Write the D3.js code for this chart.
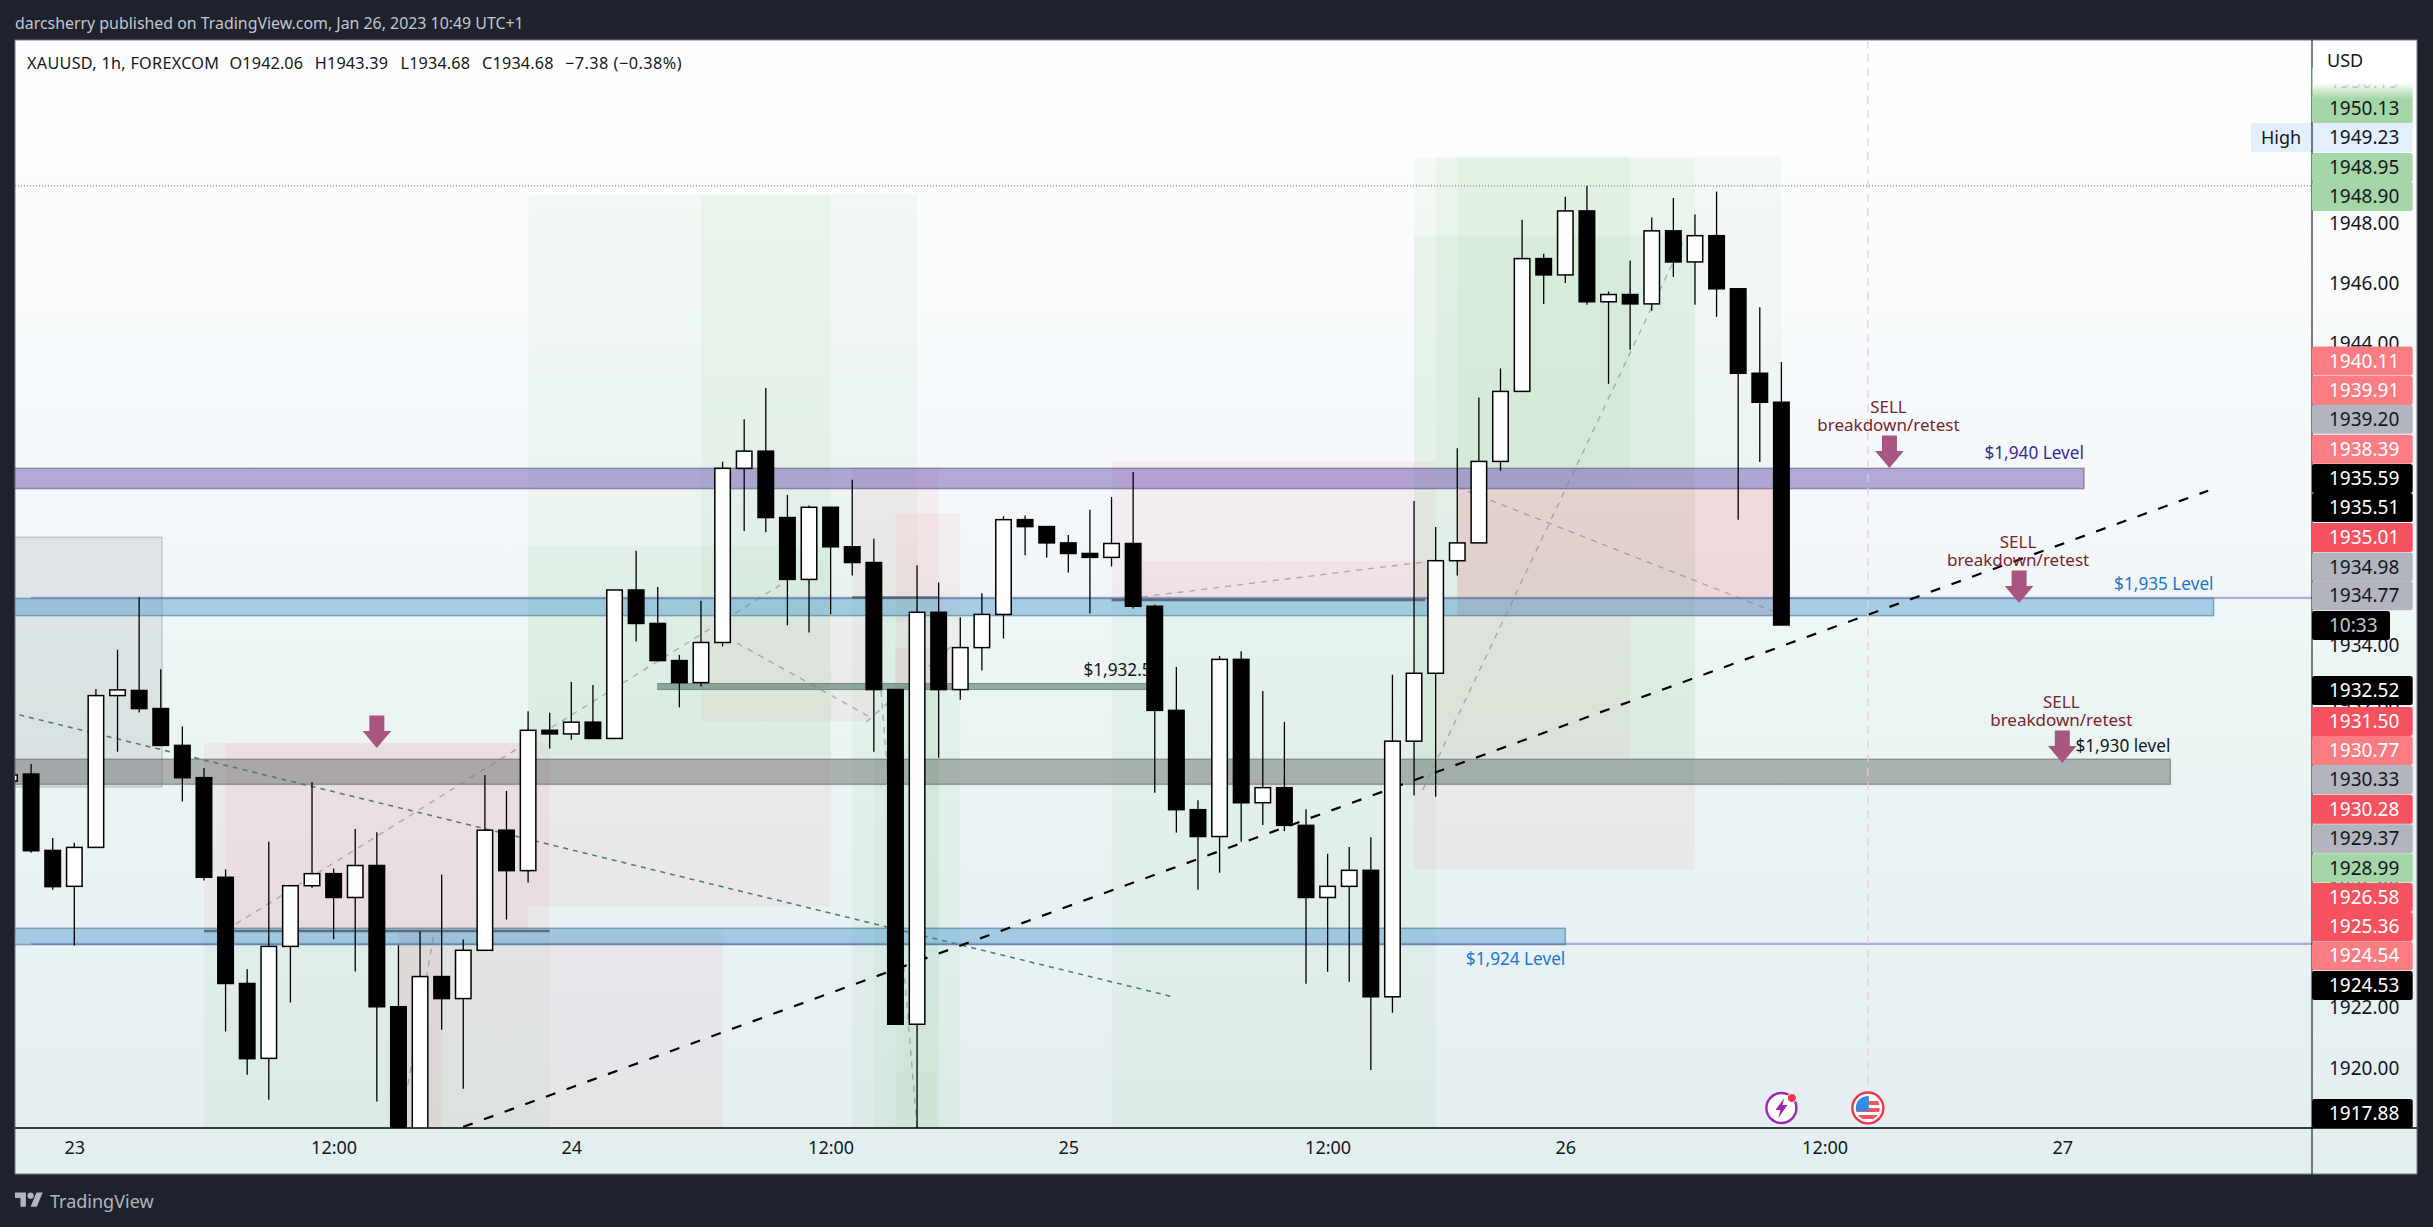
<!DOCTYPE html>
<html>
<head>
<meta charset="utf-8">
<script src="https://cdn.jsdelivr.net/npm/d3@7"></script>
<style>
    html, body { margin: 0; padding: 0; background: #1e222d; }
    svg { display: block; }
    text { font-family: "Noto Sans", sans-serif; }
</style>
</head>
<body>
<svg id="chart" width="2433" height="1227"></svg>
<script>
// candles, first one is the clipped stub at the left edge (bar -1)
let firstBar = -1;
let opens = [1929.51,
    1929.74, 1927.21, 1926.02, 1927.31, 1932.34, 1932.51, 1931.91, 1930.69, 1929.62, 1926.32,
    1922.80, 1920.32, 1924.03, 1926.04, 1926.44, 1925.65, 1926.71, 1922.03, 1916.90, 1923.03,
    1922.30, 1923.90, 1927.88, 1926.54, 1931.19, 1931.07, 1931.46, 1930.92, 1935.84, 1934.73,
    1933.50, 1932.77, 1934.10, 1939.87, 1940.44, 1938.24, 1936.19, 1938.58, 1937.27, 1936.75,
    1932.54, 1921.45, 1935.10, 1932.54, 1933.93, 1935.03, 1938.17, 1937.94, 1937.40, 1937.05,
    1936.92, 1937.38, 1935.30, 1931.85, 1928.56, 1927.67, 1933.54, 1928.79, 1929.29, 1928.04,
    1925.65, 1926.02, 1926.55, 1922.36, 1930.83, 1933.08, 1936.81, 1937.40, 1940.10, 1942.42,
    1946.82, 1946.28, 1948.40, 1945.39, 1945.63, 1945.32, 1947.74, 1946.71, 1947.58, 1945.82,
    1943.02, 1942.06];
let highs = [1929.75,
    1930.07, 1927.62, 1927.46, 1932.56, 1933.86, 1935.61, 1933.21, 1931.32, 1929.94, 1926.58,
    1923.27, 1927.50, 1926.04, 1929.48, 1926.61, 1927.92, 1927.81, 1924.07, 1924.52, 1926.41,
    1924.26, 1929.71, 1929.18, 1931.82, 1931.77, 1932.79, 1932.69, 1935.84, 1937.14, 1935.94,
    1933.69, 1935.48, 1940.09, 1941.50, 1942.53, 1938.99, 1938.64, 1938.58, 1939.49, 1937.54,
    1932.54, 1936.66, 1936.09, 1934.94, 1935.73, 1938.28, 1938.31, 1937.94, 1937.66, 1938.50,
    1938.92, 1939.75, 1935.36, 1933.29, 1928.87, 1933.65, 1933.81, 1932.49, 1931.47, 1928.57,
    1927.10, 1927.32, 1927.65, 1933.03, 1938.79, 1937.93, 1940.54, 1942.22, 1943.18, 1948.11,
    1946.98, 1948.87, 1949.23, 1945.73, 1946.76, 1948.18, 1948.83, 1948.28, 1949.04, 1945.82,
    1945.21, 1943.39];
let lows = [1929.45,
    1927.13, 1925.91, 1924.06, 1927.31, 1930.48, 1931.78, 1930.69, 1928.83, 1926.21, 1921.21,
    1919.78, 1918.95, 1922.17, 1925.97, 1924.27, 1923.20, 1918.89, 1916.80, 1916.50, 1921.27,
    1919.31, 1923.90, 1924.92, 1926.15, 1930.59, 1930.88, 1930.92, 1930.92, 1934.13, 1933.50,
    1931.95, 1932.64, 1933.97, 1937.79, 1937.75, 1934.67, 1934.43, 1935.04, 1936.32, 1930.48,
    1921.45, 1917.88, 1930.28, 1932.20, 1933.17, 1934.23, 1936.99, 1936.92, 1936.42, 1935.06,
    1936.62, 1935.23, 1929.12, 1927.80, 1925.91, 1926.47, 1927.50, 1928.05, 1927.85, 1922.79,
    1923.19, 1922.86, 1919.93, 1921.83, 1929.03, 1928.99, 1936.32, 1937.40, 1939.79, 1942.42,
    1945.32, 1946.01, 1945.29, 1942.67, 1943.80, 1945.09, 1946.21, 1945.29, 1944.89, 1938.17,
    1940.08, 1934.68];
let closes = [1929.71,
    1927.20, 1926.01, 1927.31, 1932.34, 1932.53, 1931.91, 1930.69, 1929.62, 1926.32, 1922.80,
    1920.31, 1924.03, 1926.04, 1926.44, 1925.65, 1926.71, 1922.03, 1917.00, 1923.03, 1922.30,
    1923.90, 1927.88, 1926.54, 1931.19, 1931.07, 1931.46, 1930.92, 1935.84, 1934.73, 1933.50,
    1932.77, 1934.10, 1939.87, 1940.44, 1938.24, 1936.19, 1938.58, 1937.27, 1936.75, 1932.54,
    1921.45, 1935.10, 1932.54, 1933.93, 1935.03, 1938.17, 1937.94, 1937.40, 1937.05, 1936.92,
    1937.38, 1935.30, 1931.85, 1928.56, 1927.67, 1933.54, 1928.79, 1929.29, 1928.04, 1925.65,
    1926.02, 1926.55, 1922.36, 1930.83, 1933.08, 1936.81, 1937.40, 1940.10, 1942.42, 1946.82,
    1946.28, 1948.40, 1945.39, 1945.63, 1945.32, 1947.74, 1946.71, 1947.58, 1945.82, 1943.02,
    1942.06, 1934.68];

// time axis: bar number -> label
let timeTickBars = [2, 14, 25, 37, 48, 60, 71, 83, 94];
let timeTickLabels = ["23", "12:00", "24", "12:00", "25", "12:00", "26", "12:00", "27"];

// only the ticks that are not fully covered by the label stack
let priceTicks = [1920, 1922, 1926, 1932, 1934, 1944, 1946, 1948];

// drawings as [barFrom, barTo, priceTop, priceBottom]
let greenZones = [
    [8, 24, 1924.54, 1915], [23, 37, 1948.93, 1930.33], [23, 37, 1937.30, 1930.33],
    [31, 41, 1948.95, 1934.77], [38, 42, 1935.59, 1915], [39, 42, 1935.59, 1915], [40, 43, 1932.52, 1915],
    [50, 65, 1935.51, 1915], [64, 77, 1950.13, 1929.37], [64, 77, 1947.58, 1929.37],
    [65, 81, 1950.19, 1939.20], [66, 74, 1950.19, 1939.20]];
let pinkZones = [
    [8, 24, 1930.77, 1924.54], [9, 23, 1930.77, 1924.54], [17, 32, 1924.54, 1915], [17, 19, 1924.54, 1915],
    [31, 39, 1934.77, 1931.50], [23, 37, 1930.33, 1925.36], [38, 42, 1939.91, 1935.59],
    [40, 43, 1938.39, 1932.52], [40, 43, 1933.93, 1932.52], [50, 65, 1940.11, 1935.51], [51, 65, 1936.80, 1935.51],
    [64, 77, 1929.37, 1926.58], [65, 74, 1934.98, 1930.28], [66, 81, 1939.20, 1934.98], [66, 81, 1939.20, 1934.98], [66, 81, 1939.20, 1934.98]];
let greyBoxes = [[-2, 6.06, 1937.59, 1929.31]];

let purpleBands = [[-2, 95, 1939.87, 1939.20]];
let blueBands = [[-2, 101, 1935.56, 1934.99], [-2, 71, 1924.63, 1924.09]];
let greyBands = [[-2, 99, 1930.23, 1929.40]];
let tealBands = [[29, 52, 1932.74, 1932.54]];

// prices of the two horizontal rays starting at bar 0
let rayPrices = [1935.58, 1924.11];
let entryLines = [[8, 24, 1924.54], [38, 42, 1935.59], [50, 64.5, 1935.51]];

// [barFrom, priceFrom, barTo, priceTo]
let trendLine = [20, 1918.05, 100.75, 1939.13];
let tealDashed = [-1, 1931.78, 52.89, 1922.35];
let greyDashed = [
    [9.47, 1924.77, 34.66, 1936.00], [17.44, 1919.45, 18.64, 1924.44], [32.67, 1934.08, 39, 1931.56],
    [39.33, 1932.49, 41, 1918.01], [38.64, 1931.46, 42.66, 1934.02], [51.4, 1935.61, 64.5, 1936.77],
    [65.98, 1939.25, 80.6, 1935.14], [64.4, 1929.21, 76.5, 1947.47]];

let highPrice = 1949.23;
let eventBars = [81, 85];

// sell arrows: [bar, price of the tip]
let sellArrows = [[16, 1930.60], [86, 1939.88], [92, 1935.41], [94, 1930.11]];
let sellNotes = [[86, 1941.91], [92, 1937.44], [94, 1932.14]];
let levelNotes = [
    ["$1,940 Level", 95, 1940.39, "end", "#3a2a9e"],
    ["$1,935 Level", 101, 1936.04, "end", "#1976d2"],
    ["$1,930 level", 99, 1930.68, "end", "#131722"],
    ["$1,924 Level", 71, 1923.61, "end", "#1976d2"],
    ["$1,932.50", 48.7, 1933.20, "start", "#131722"]];

// right hand price labels, slot is where the stack put them on the scale
let labelTexts = ["1950.19", "1950.13", "1948.95", "1948.90", "1940.11", "1939.91", "1939.20", "1938.39", "1935.59", "1935.51",
    "1935.01", "1934.98", "1934.77", "1932.52", "1931.50", "1930.77", "1930.33", "1930.28", "1929.37", "1928.99",
    "1926.58", "1925.36", "1924.54", "1924.53", "1917.88"];
let labelSlots = [1952.70, 1951.79, 1949.84, 1948.88, 1943.43, 1942.45, 1941.50, 1940.50, 1939.53, 1938.57,
    1937.58, 1936.60, 1935.65, 1932.51, 1931.48, 1930.52, 1929.56, 1928.57, 1927.60, 1926.63,
    1925.65, 1924.69, 1923.72, 1922.73, 1918.49];
let labelKinds = ["green", "green", "green", "green", "salmon", "salmon", "grey", "salmon", "black", "black",
    "red", "grey", "grey", "black", "red", "salmon", "grey", "red", "grey", "green",
    "red", "red", "salmon", "black", "black"];
let labelFills = { green: "#a5d6a7", salmon: "#f97d83", grey: "#b2b5be", black: "#000000", red: "#f7525f" };
let labelInk = { green: "#131722", salmon: "#ffffff", grey: "#131722", black: "#ffffff", red: "#ffffff" };

let titleText = "darcsherry published on TradingView.com, Jan 26, 2023 10:49 UTC+1";
let legendParts = ["XAUUSD, 1h, FOREXCOM", "O1942.06", "H1943.39", "L1934.68", "C1934.68", "\u22127.38 (\u22120.38%)"];
let legendStarts = [27, 229.6, 314.8, 400.5, 482, 565];
let legendEnds = [219, 303, 388, 470, 553.6, 681.6];

let panelLeft = 15, panelTop = 40, panelRight = 2417, panelBottom = 1174;
let plotRight = 2312, plotBottom = 1128;

let x = d3.scaleLinear().domain([0, 81]).range([31.1, 1781.4]);
let y = d3.scaleLinear().domain([1920, 1948]).range([1068, 223]);

let svg = d3.select("#chart");
let defs = svg.append("defs");

let gradient = defs.append("linearGradient").attr("id", "panelFill").attr("x1", 0).attr("x2", 0).attr("y1", 0).attr("y2", 1);
for (let [offset, color] of [[0, "#ffffff"], [0.44, "#f3f7fa"], [0.58, "#ebf5f3"], [0.85, "#e7f0f3"], [1, "#e3eeef"]]) {
    gradient.append("stop").attr("offset", offset).attr("stop-color", color);
}
let fade = defs.append("linearGradient").attr("id", "axisFade").attr("x1", 0).attr("x2", 0).attr("y1", 0).attr("y2", 1);
fade.append("stop").attr("offset", 0.72).attr("stop-color", "#ffffff");
fade.append("stop").attr("offset", 1).attr("stop-color", "#ffffff").attr("stop-opacity", 0);

defs.append("clipPath").attr("id", "plotClip").append("rect")
    .attr("x", panelLeft).attr("y", panelTop).attr("width", plotRight - panelLeft).attr("height", plotBottom - panelTop);

svg.append("text").attr("x", panelLeft).attr("y", 23).attr("dy", "0.35em")
    .attr("font-size", 15.9).attr("fill", "#c3c6ce").text(titleText);

svg.append("rect").attr("x", panelLeft).attr("y", panelTop).attr("width", panelRight - panelLeft).attr("height", panelBottom - panelTop)
    .attr("fill", "url(#panelFill)").attr("stroke", "#787b86").attr("stroke-width", 1);

let plot = svg.append("g").attr("clip-path", "url(#plotClip)");

function drawRects(list, fill, stroke, strokeWidth) {
    plot.append("g").selectAll("rect").data(list).join("rect")
        .attr("x", d => x(d[0]))
        .attr("width", d => x(d[1]) - x(d[0]))
        .attr("y", d => y(d[2]))
        .attr("height", d => y(d[3]) - y(d[2]))
        .attr("fill", fill)
        .attr("stroke", stroke || "none")
        .attr("stroke-width", strokeWidth || 0);
}

drawRects(greenZones, "rgba(76, 175, 80, 0.05)");
drawRects(pinkZones, "rgba(242, 54, 69, 0.055)");
drawRects(greyBoxes, "rgba(120, 123, 134, 0.15)", "rgba(120, 123, 134, 0.45)", 1);

// horizontal rays and the tool entry lines
plot.append("g").selectAll("line").data(rayPrices).join("line")
    .attr("x1", x(0)).attr("x2", plotRight)
    .attr("y1", d => y(d)).attr("y2", d => y(d))
    .attr("stroke", "rgba(103, 58, 183, 0.42)").attr("stroke-width", 2.2);

drawRects(purpleBands, "rgba(100, 70, 175, 0.45)", "rgba(85, 75, 125, 0.55)", 1.5);
drawRects(blueBands, "rgba(70, 150, 205, 0.43)", "rgba(70, 120, 150, 0.6)", 1.5);
drawRects(greyBands, "rgba(90, 95, 95, 0.44)", "rgba(100, 100, 100, 0.55)", 1.5);
drawRects(tealBands, "rgba(80, 115, 105, 0.58)", "rgba(80, 105, 100, 0.6)", 1);

plot.append("g").selectAll("line").data(entryLines).join("line")
    .attr("x1", d => x(d[0])).attr("x2", d => x(d[1]))
    .attr("y1", d => y(d[2])).attr("y2", d => y(d[2]))
    .attr("stroke", "rgba(70, 80, 95, 0.75)").attr("stroke-width", 2.4);

function drawSegments(list, stroke, width, dash) {
    plot.append("g").selectAll("line").data(list).join("line")
        .attr("x1", d => x(d[0])).attr("y1", d => y(d[1]))
        .attr("x2", d => x(d[2])).attr("y2", d => y(d[3]))
        .attr("stroke", stroke).attr("stroke-width", width).attr("stroke-dasharray", dash);
}

drawSegments(greyDashed, "rgba(120, 130, 140, 0.6)", 1.3, "6,6");
drawSegments([tealDashed], "#4a7a72", 1.5, "5,5");
drawSegments([trendLine], "#000000", 2.2, "10,12");

plot.append("line").attr("x1", panelLeft).attr("x2", plotRight).attr("y1", y(highPrice)).attr("y2", y(highPrice))
    .attr("stroke", "#6a6d78").attr("stroke-width", 1).attr("stroke-dasharray", "1,2");

// news marker line
plot.append("line").attr("x1", x(eventBars[1])).attr("x2", x(eventBars[1])).attr("y1", panelTop).attr("y2", plotBottom - 38)
    .attr("stroke", "#f3c6d4").attr("stroke-width", 1.2).attr("stroke-dasharray", "8,6");

// notes and arrows, under the candles like the other drawings
let noteLayer = plot.append("g");
for (let [text, bar, price, anchor, color] of levelNotes) {
    noteLayer.append("text").attr("x", x(bar)).attr("y", y(price)).attr("dy", "0.35em")
        .attr("text-anchor", anchor).attr("font-size", 17.2).attr("fill", color).text(text);
}
for (let [bar, price] of sellNotes) {
    let note = noteLayer.append("text").attr("text-anchor", "middle").attr("font-size", 17).attr("fill", "#801f2c");
    note.append("tspan").attr("x", x(bar) - 1).attr("y", y(price)).attr("dy", "0.35em").text("SELL");
    note.append("tspan").attr("x", x(bar) - 1).attr("y", y(price) + 18.3).attr("dy", "0.35em").text("breakdown/retest");
}
noteLayer.selectAll("path").data(sellArrows).join("path")
    .attr("transform", d => `translate(${x(d[0])},${y(d[1])})`)
    .attr("d", "M0,0 L-14.3,-17 L-7.5,-17 L-7.5,-32.5 L7.5,-32.5 L7.5,-17 L14.3,-17 Z")
    .attr("fill", "#a8557f");

// candles
let bars = opens.map((open, i) => ({ bar: i + firstBar, open, high: highs[i], low: lows[i], close: closes[i] }));
let candles = plot.append("g").selectAll("g").data(bars).join("g");
candles.append("line")
    .attr("x1", d => x(d.bar)).attr("x2", d => x(d.bar))
    .attr("y1", d => y(d.high)).attr("y2", d => y(d.low))
    .attr("stroke", "#000000").attr("stroke-width", 1.3);
candles.append("rect")
    .attr("x", d => x(d.bar) - 7.75)
    .attr("width", 15.5)
    .attr("y", d => y(Math.max(d.open, d.close)))
    .attr("height", d => Math.max(1, Math.abs(y(d.open) - y(d.close))))
    .attr("fill", d => d.close >= d.open ? "#ffffff" : "#000000")
    .attr("stroke", "#000000").attr("stroke-width", 1.5);

// event icons
let flagBar = eventBars[1], boltBar = eventBars[0];
let iconY = plotBottom - 20;
let bolt = svg.append("g").attr("transform", `translate(${x(boltBar)},${iconY})`);
bolt.append("circle").attr("r", 15).attr("fill", "#ffffff").attr("stroke", "#9c27b0").attr("stroke-width", 2.4);
bolt.append("path").attr("d", "M3,-10 L-6,2 L-1,2 L-3,10 L6,-3 L1,-3 Z").attr("fill", "#9c27b0");
bolt.append("circle").attr("cx", 10.5).attr("cy", -10).attr("r", 4.5).attr("fill", "#f23645").attr("stroke", "#ffffff").attr("stroke-width", 1);

let flagClip = defs.append("clipPath").attr("id", "flagClip");
flagClip.append("circle").attr("r", 12);
let flag = svg.append("g").attr("transform", `translate(${x(flagBar)},${iconY})`);
flag.append("circle").attr("r", 15.5).attr("fill", "#ffffff").attr("stroke", "#f23645").attr("stroke-width", 2.4);
let flagInner = flag.append("g").attr("clip-path", "url(#flagClip)");
flagInner.append("rect").attr("x", -12).attr("y", -12).attr("width", 24).attr("height", 24).attr("fill", "#ffffff");
for (let stripe of [-9, -2, 5]) {
    flagInner.append("rect").attr("x", -12).attr("y", stripe + 2).attr("width", 24).attr("height", 4).attr("fill", "#f7525f");
}
flagInner.append("rect").attr("x", -12).attr("y", -12).attr("width", 13).attr("height", 15).attr("fill", "#2e8ee8");

// time axis
svg.append("g").attr("transform", `translate(0,${plotBottom})`)
    .call(d3.axisBottom(x).tickValues(timeTickBars).tickFormat((d, i) => timeTickLabels[i]).tickSize(0).tickPadding(13))
    .call(g => g.select(".domain").remove())
    .call(g => g.selectAll("text").attr("font-size", 18).attr("fill", "#131722").attr("font-family", '"Noto Sans", sans-serif'));

// price axis
svg.append("g").attr("transform", `translate(${plotRight},0)`)
    .call(d3.axisRight(y).tickValues(priceTicks).tickFormat(d3.format(".2f")).tickSize(0).tickPadding(17))
    .call(g => g.select(".domain").remove())
    .call(g => g.selectAll("text").attr("font-size", 19).attr("fill", "#131722").attr("font-family", '"Noto Sans", sans-serif'));

svg.append("line").attr("x1", panelLeft).attr("x2", panelRight).attr("y1", plotBottom).attr("y2", plotBottom)
    .attr("stroke", "#000000").attr("stroke-width", 1.5);
svg.append("line").attr("x1", plotRight).attr("x2", plotRight).attr("y1", panelTop).attr("y2", panelBottom)
    .attr("stroke", "#000000").attr("stroke-width", 1);

// stacked price labels
let labelHeight = 29;
let labels = svg.append("g").selectAll("g").data(labelTexts).join("g")
    .attr("transform", (d, i) => `translate(${plotRight},${y(labelSlots[i])})`);
labels.append("rect")
    .attr("y", -labelHeight / 2).attr("width", 100.7).attr("height", labelHeight).attr("rx", 2.5)
    .attr("fill", (d, i) => labelFills[labelKinds[i]]);
labels.append("text")
    .attr("x", 17).attr("dy", "0.35em").attr("font-size", 19)
    .attr("fill", (d, i) => labelInk[labelKinds[i]]).text(d => d);

// countdown under the last price
let countdown = svg.append("g").attr("transform", `translate(${plotRight},${y(1934.66)})`);
countdown.append("rect").attr("y", -labelHeight / 2).attr("width", 78).attr("height", labelHeight).attr("rx", 2.5).attr("fill", "#000000");
countdown.append("text").attr("x", 17).attr("dy", "0.35em").attr("font-size", 19).attr("fill", "#c4c6cc").text("10:33");

// high of the range
let highRow = svg.append("g").attr("transform", `translate(${plotRight},${y(1950.83)})`);
highRow.append("rect").attr("x", -61).attr("y", -labelHeight / 2).attr("width", 61).attr("height", labelHeight).attr("rx", 2.5).attr("fill", "#e3effd");
highRow.append("rect").attr("y", -labelHeight / 2).attr("width", 100.7).attr("height", labelHeight).attr("fill", "#e3effd");
highRow.append("line").attr("y1", -labelHeight / 2).attr("y2", labelHeight / 2).attr("stroke", "#000000");
highRow.append("text").attr("x", -31).attr("dy", "0.35em").attr("text-anchor", "middle").attr("font-size", 18).attr("fill", "#131722").text("High");
highRow.append("text").attr("x", 17).attr("dy", "0.35em").attr("font-size", 19).attr("fill", "#131722").text(highPrice.toFixed(2));

svg.append("rect").attr("x", plotRight + 1).attr("y", panelTop + 1).attr("width", panelRight - plotRight - 2).attr("height", 58).attr("fill", "url(#axisFade)");
svg.append("text").attr("x", 2327).attr("y", 61).attr("dy", "0.35em").attr("font-size", 18).attr("fill", "#131722").text("USD");

svg.append("g").selectAll("text").data(legendParts).join("text")
    .attr("x", (d, i) => legendStarts[i]).attr("y", 63).attr("dy", "0.35em")
    .attr("textLength", (d, i) => legendEnds[i] - legendStarts[i]).attr("lengthAdjust", "spacing")
    .attr("font-size", 16.2).attr("fill", "#131722").text(d => d);

// footer logo
let logo = svg.append("g").attr("transform", "translate(15,1189.5) scale(0.78)").attr("fill", "#b2b5be");
logo.append("path").attr("d", "M14 22H7V11H0V4h14v18zM28 22h-8l7.5-18h8L28 22z");
logo.append("circle").attr("cx", 20).attr("cy", 8).attr("r", 4);
svg.append("text").attr("x", 50).attr("y", 1202).attr("dy", "0.35em").attr("font-size", 18).attr("fill", "#b2b5be").text("TradingView");
</script>
</body>
</html>
